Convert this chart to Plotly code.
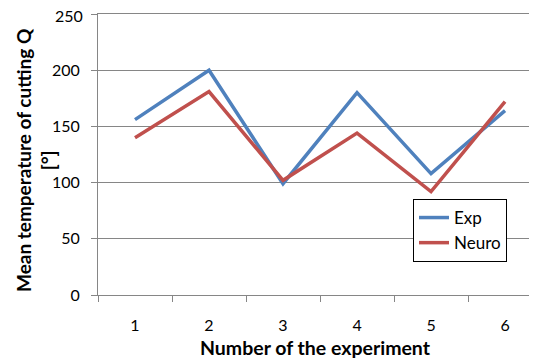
import plotly.graph_objects as go

experiments = ["1", "2", "3", "4", "5", "6"]
exp_values = [156, 200, 99, 180, 108, 164]
neuro_values = [140, 181, 102, 144, 92, 172]
y_ticks = [0, 50, 100, 150, 200, 250]

FONT = "Lato"
GRID = "#868686"
OFF = 8  # default page body margin
W, H = 537 - OFF, 360 - OFF
L, R, T, B = 98 - OFF, 537 - OFF, 14 - OFF, 295 - OFF
PW, PH = R - L, B - T
Y_MAX = y_ticks[-1]


def px(x):
    return (x - OFF - L) / PW


def py(y):
    return (B - (y - OFF)) / PH


fig = go.Figure()
fig.add_trace(go.Scatter(x=experiments, y=exp_values, mode="lines", name="Exp",
                         line=dict(color="#4F81BD", width=3.5)))
fig.add_trace(go.Scatter(x=experiments, y=neuro_values, mode="lines", name="Neuro",
                         line=dict(color="#C0504D", width=3.5)))

fig.update_layout(
    width=W, height=H,
    margin=dict(l=L, r=W - R, t=T, b=H - B, autoexpand=False),
    paper_bgcolor="white", plot_bgcolor="white",
    font=dict(family=FONT, size=16, color="black"),
    showlegend=True,
    legend=dict(x=px(413), y=py(199), xanchor="left", yanchor="top",
                bgcolor="white", bordercolor="black", borderwidth=1,
                font=dict(size=17), tracegroupgap=0),
)

fig.update_xaxes(
    type="category", range=[-0.5, 5.432], automargin=False,
    showgrid=False, showline=True, linecolor=GRID, linewidth=1, mirror=True,
    ticks="outside", tickson="boundaries", ticklen=6, tickcolor=GRID,
    tickfont=dict(size=16), ticklabelstandoff=16,
)
fig.update_yaxes(
    range=[0, Y_MAX], tickvals=y_ticks, automargin=False,
    showgrid=True, gridcolor=GRID, gridwidth=1,
    showline=True, linecolor=GRID, linewidth=1,
    ticks="outside", ticklen=6, tickcolor=GRID,
    tickfont=dict(size=16), zeroline=False, ticklabelstandoff=8,
)

# top tick mark and label (plotly drops the label at the very edge of the page)
fig.add_shape(type="line", xref="paper", yref="y", x0=-6 / PW, x1=0,
              y0=Y_MAX, y1=Y_MAX, line=dict(color=GRID, width=1))
fig.add_annotation(text=str(Y_MAX), xref="paper", yref="y", x=-14 / PW, y=Y_MAX,
                   xanchor="right", yanchor="middle", showarrow=False,
                   font=dict(size=16), borderpad=0, yshift=-1)

fig.add_annotation(
    text="<b>Mean temperature of cutting Q<br>[°]</b>", textangle=-90,
    xref="paper", yref="paper", x=px(36), y=py(160),
    xanchor="center", yanchor="middle", showarrow=False,
    font=dict(size=19), align="center",
)
fig.add_annotation(
    text="<b>Number of the experiment</b>",
    xref="paper", yref="paper", x=px(315), y=py(347),
    xanchor="center", yanchor="middle", showarrow=False,
    font=dict(size=19.5),
)

fig.write_html("out.html")
